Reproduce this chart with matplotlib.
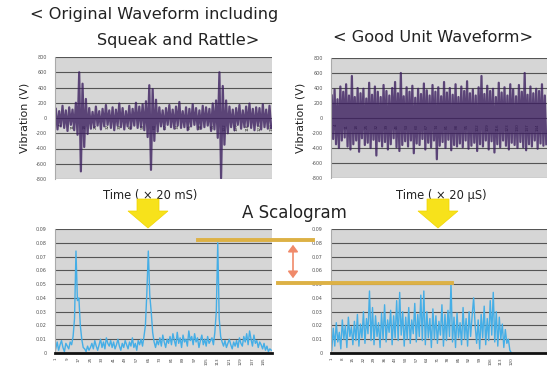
import numpy as np
import matplotlib.pyplot as plt
from matplotlib.patches import Polygon, FancyArrowPatch
from matplotlib.lines import Line2D

# waveform with squeak & rattle (3 bursts)
wave_bad = [
    120, -150, 90, -110, 160, -130, 100, -170, 140, -90,
    110, -160, 200, -220, 600, -700, 450, -380, 250, -210,
    130, -140, 80, -120, 150, -100, 90, -150, 120, -110,
    170, -90, 100, -130, 140, -160, 110, -100, 190, -120,
    130, -150, 90, -110, 160, -140, 120, -100, 200, -130,
    150, -120, 180, -160, 220, -250, 430, -680, 380, -300,
    240, -180, 140, -110, 100, -150, 130, -90, 170, -120,
    110, -140, 150, -100, 210, -130, 90, -120, 140, -160,
    120, -110, 180, -90, 130, -150, 100, -140, 160, -120,
    140, -100, 120, -170, 190, -150, 230, -260, 600, -790,
    420, -350, 230, -200, 150, -120, 110, -160, 130, -90,
    170, -140, 100, -120, 150, -110, 190, -130, 120, -160,
    140, -100, 130, -150, 180, -120, 110, -140, 160, -130,
]

# good unit waveform
wave_good = [
    300, -280, 380, -350, 250, -400, 420, -300, 350, -260,
    450, -380, 300, -420, 560, -350, 280, -300, 400, -450,
    330, -270, 390, -360, 260, -330, 470, -400, 310, -290,
    420, -500, 350, -310, 280, -380, 440, -320, 360, -420,
    300, -350, 400, -270, 480, -390, 330, -440, 600, -360,
    290, -310, 410, -380, 350, -300, 430, -470, 270, -340,
    390, -360, 320, -280, 460, -420, 370, -330, 300, -390,
    440, -300, 350, -550, 410, -370, 290, -320, 480, -400,
    340, -290, 400, -430, 310, -360, 450, -380, 280, -340,
    420, -390, 360, -300, 490, -410, 330, -370, 380, -330,
    300, -440, 410, -350, 560, -380, 320, -300, 430, -420,
    360, -310, 390, -460, 280, -350, 470, -390, 340, -300,
    410, -370, 300, -420, 450, -330, 380, -360, 290, -400,
    440, -320, 350, -390, 600, -430, 310, -350, 420, -380,
    330, -300, 390, -410, 360, -340, 450, -370, 300, -350,
]

# scalograms (x 0.001)
scal_bad = [
    3, 8, 2, 6, 9, 4, 1, 7, 5, 3,
    8, 6, 12, 25, 74, 38, 40, 20, 10, 4,
    3, 1, 5, 2, 4, 7, 3, 9, 5, 2,
    6, 10, 4, 8, 3, 11, 7, 5, 9, 4,
    8, 3, 6, 10, 5, 2, 7, 4, 9, 6,
    3, 8, 5, 11, 4, 7, 2, 9, 6, 10,
    5, 12, 20, 44, 74, 42, 30, 15, 8, 4,
    9, 6, 11, 5, 13, 8, 4, 10, 7, 12,
    6, 14, 9, 5, 15, 7, 11, 4, 13, 8,
    10, 5, 16, 9, 12, 6, 14, 8, 11, 4,
    9, 13, 6, 10, 5, 12, 7, 9, 11, 6,
    15, 30, 80, 25, 12, 8, 5, 9, 4, 7,
    10, 6, 3, 8, 5, 9, 4, 11, 7, 5,
    12, 8, 14, 6, 16, 10, 5, 13, 7, 9,
    4, 8, 6, 3, 7, 2, 5, 1, 3, 2,
]

scal_good = [
    2, 18, 5, 22, 8, 15, 3, 24, 10, 20,
    4, 26, 12, 19, 6, 23, 9, 28, 5, 21,
    11, 30, 7, 25, 14, 45, 9, 33, 6, 27,
    12, 22, 4, 29, 10, 35, 8, 24, 15, 31,
    6, 27, 11, 38, 9, 44, 13, 30, 5, 26,
    10, 33, 7, 24, 14, 36, 8, 28, 12, 42,
    9, 45, 6, 30, 11, 25, 4, 32, 10, 27,
    7, 23, 13, 35, 5, 28, 9, 31, 12, 51,
    8, 26, 4, 29, 11, 22, 6, 33, 10, 25,
    5, 30, 12, 27, 40, 20, 7, 24, 3, 28,
    11, 34, 6, 25, 9, 38, 13, 44, 8, 30,
    5, 26, 10, 21, 4, 17, 7, 10, 2, 0,
]

wave_ticks = [-800, -600, -400, -200, 0, 200, 400, 600, 800]
scal_ticks = [0, 0.01, 0.02, 0.03, 0.04, 0.05, 0.06, 0.07, 0.08, 0.09]
scal_ticklabels = ['0', '0.01', '0.02', '0.03', '0.04', '0.05', '0.06', '0.07', '0.08', '0.09']

W, H = 547, 368
fig = plt.figure(figsize=(W / 100, H / 100), dpi=100)


def box(x0, y0, x1, y1):
    # pixel box -> figure fraction rect
    return [x0 / W, 1 - y1 / H, (x1 - x0) / W, (y1 - y0) / H]


def fp(x, y):
    return (x / W, 1 - y / H)


def style_axes(ax):
    ax.set_facecolor('#d6d6d6')
    for s in ['top', 'right']:
        ax.spines[s].set_visible(False)
    ax.spines['left'].set_color('#aaaaaa')
    ax.tick_params(axis='y', length=0, labelsize=3.5, labelcolor='#555555', pad=6)
    ax.grid(axis='y', color='#555555', lw=0.8)
    ax.set_axisbelow(True)


def wave_axes(rect, data, xmax_frac=1.0):
    ax = fig.add_axes(rect)
    style_axes(ax)
    n = len(data)
    ax.plot(np.arange(n), data, color='#3c1f60', lw=1.6, alpha=0.8)
    ax.set_ylim(-800, 800)
    ax.set_yticks(wave_ticks)
    ax.set_yticklabels([str(t) for t in wave_ticks])
    ax.set_xlim(-0.5, (n - 0.5) / xmax_frac)
    ax.spines['bottom'].set_position(('data', 0))
    ax.spines['bottom'].set_visible(False)
    xt = np.arange(3, n, 7)
    ax.set_xticks(xt)
    ax.set_xticklabels([str(i + 1) for i in xt], rotation=90)
    ax.tick_params(axis='x', length=0, labelsize=3, labelcolor='#222222', pad=4)
    ax.set_ylabel('Vibration (V)', fontsize=8, color='#222222', labelpad=4)
    return ax


def scal_axes(rect, data, xmax_frac=1.0):
    ax = fig.add_axes(rect)
    style_axes(ax)
    n = len(data)
    vals = np.array(data) / 1000
    ax.plot(np.arange(n), vals, color='#45aee6', lw=1.0)
    ax.set_ylim(0, 0.09)
    ax.set_yticks(scal_ticks)
    ax.set_yticklabels(scal_ticklabels)
    ax.set_xlim(-0.5, (n - 0.5) / xmax_frac)
    ax.spines['bottom'].set_color('#111111')
    ax.spines['bottom'].set_linewidth(2)
    xt = np.arange(0, n, max(1, n // 17))
    ax.set_xticks(xt)
    ax.set_xticklabels([str(i + 1) for i in xt], rotation=90)
    ax.tick_params(axis='x', length=0, labelsize=3, labelcolor='#444444', pad=3)
    return ax


wave_axes(box(55, 57, 272, 179), wave_bad)
wave_axes(box(331, 58, 547, 178), wave_good)
scal_axes(box(55, 229, 272, 353), scal_bad)
scal_axes(box(331, 229, 547, 353), scal_good, xmax_frac=(512 - 331) / (547 - 331))

# titles and labels
txt = dict(color='#222222', ha='center', va='center')
fig.text(*fp(154, 14), '< Original Waveform including', fontsize=11.6, **txt)
fig.text(*fp(178, 41), 'Squeak and Rattle>', fontsize=11.6, **txt)
fig.text(*fp(433, 37), '< Good Unit Waveform>', fontsize=11.6, **txt)
fig.text(*fp(150, 195), 'Time ( × 20 mS)', fontsize=8.3, **txt)
fig.text(*fp(441, 195), 'Time ( × 20 μS)', fontsize=8.3, **txt)
fig.text(*fp(294, 213), 'A Scalogram', fontsize=12, **txt)

# yellow down arrows
for cx in [148, 438]:
    pts = [fp(cx - 11, 199), fp(cx + 11, 199), fp(cx + 11, 211), fp(cx + 20, 211),
           fp(cx, 228), fp(cx - 20, 211), fp(cx - 11, 211)]
    fig.patches.append(Polygon(pts, closed=True, transform=fig.transFigure,
                               facecolor='#f7e21b', edgecolor='#f1d400', lw=0.5, zorder=5))

# peak level lines
fig.lines.append(Line2D([198 / W, 313 / W], [1 - 240 / H] * 2, transform=fig.transFigure,
                        color='#ddb145', lw=2.8, zorder=6))
fig.lines.append(Line2D([278 / W, 452 / W], [1 - 283 / H] * 2, transform=fig.transFigure,
                        color='#ddb145', lw=2.8, zorder=6))
fig.patches.append(FancyArrowPatch(fp(293, 242), fp(293, 281), transform=fig.transFigure,
                                   arrowstyle='<|-|>,head_length=4,head_width=3',
                                   color='#f08a6a', lw=1.2, zorder=7))

fig.savefig('out.png', dpi=100)
